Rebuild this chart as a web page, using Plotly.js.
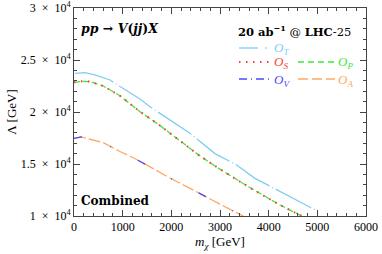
<!DOCTYPE html>
<html><head><meta charset="utf-8">
<script src="https://cdn.plot.ly/plotly-3.0.1.min.js"></script>
<style>html,body{margin:0;padding:0;background:#fff}#c{width:382px;height:254px}</style>
</head><body><div id="c"></div>
<script>
// m_chi [GeV] and Lambda [GeV]
const mT   = [20, 226, 431, 740, 945, 1356, 1562, 1972, 2383, 2897, 3343, 3719, 4438, 4986];
const lamT = [23720, 23780, 23560, 23080, 22450, 21250, 20500, 19230, 17950, 16000, 14900, 13620, 11860, 10510];
const mSP  = [0, 180, 329, 602, 945, 1356, 1732, 2143, 2589, 2965, 3582, 4233, 4678];
const lamS = [22850, 22950, 22920, 22500, 21560, 20030, 18820, 17350, 15770, 14600, 12820, 11060, 10000];
const lamP = [22850, 22950, 22920, 22500, 21560, 20030, 18820, 17350, 15770, 14600, 12820, 11060, 10000];
const mVA  = [0, 150, 329, 602, 945, 1218, 1629, 1972, 2383, 2897, 3137, 3479];
const lamV = [17470, 17600, 17380, 17050, 16200, 15600, 14560, 13650, 12660, 11350, 10800, 10000];
const lamA = [17470, 17600, 17380, 17050, 16200, 15600, 14560, 13650, 12660, 11350, 10800, 10000];
const yTickVals = [10000, 15000, 20000, 25000, 30000];
const yTickText = ['1\u2002×\u200210<sup>4</sup>', '1.5\u2002×\u200210<sup>4</sup>', '2\u2002×\u200210<sup>4</sup>', '2.5\u2002×\u200210<sup>4</sup>', '3\u2002×\u200210<sup>4</sup>'];
const xTickVals = [0, 1000, 2000, 3000, 4000, 5000, 6000];

const cT = '#80cdf2', cS = '#ff3b3b', cP = '#3ee63e', cV = '#4a4aff', cA = '#ffa860';
const F = 'Liberation Serif, serif';
const FB = 'DejaVu Serif, serif';

const traces = [
  {x: mT, y: lamT, mode: 'lines', line: {color: cT, width: 1.3, dash: '40px,3px,1px,3px'}},
  {x: mSP, y: lamP, mode: 'lines', line: {color: cP, width: 1.3, dash: '6px,3px'}},
  {x: mSP, y: lamS, mode: 'lines', line: {color: cS, width: 2, dash: '1.5px,5.5px'}},
  {x: mVA, y: lamA, mode: 'lines', line: {color: cA, width: 1.3, dash: '12px,3px'}},
  {x: mVA, y: lamV, mode: 'lines', line: {color: cV, width: 1.3, dash: '8px,30px,1px,30px'}}
];

function px2x(p){return (p-74)/292;}
function py2y(p){return (216-p)/208;}
function seg(x0,x1,y,color,dash,w){return {type:'line',xref:'paper',yref:'paper',x0:px2x(x0),x1:px2x(x1),y0:py2y(y),y1:py2y(y),line:{color:color,dash:dash,width:w||1.3}};}
function lab(x,y,txt,color,size,fam){return {xref:'paper',yref:'paper',x:px2x(x),y:py2y(y),xanchor:'left',yanchor:'middle',showarrow:false,text:txt,font:{family:fam||F,size:size||11,color:color||'#000'}};}

const shapes = [
  seg(239,258,48,cT,'solid'), seg(265,266.5,48,cT,'solid'),
  seg(239,271,62,cS,'1.5px,5.5px',2), seg(298,335,62,cP,'6px,4px'),
  seg(239,271,79,cV,'8px,4px,1px,4px'), seg(298,335,79,cA,'10px,4px')
];
const annotations = [
  lab(79,29,'<b><i>pp</i> → <i>V</i>(<i>jj</i>)<i>X</i></b>','#000',12.5,FB),
  lab(236,31,'<b>20 ab<sup>−1</sup></b> @ <b>LHC</b>-25','#000',11.5,FB),
  lab(272,49,'<i>O<sub>T</sub></i>',cT,13),
  lab(272,63,'<i>O<sub>S</sub></i>',cS,13),
  lab(336,63,'<i>O<sub>P</sub></i>',cP,13),
  lab(272,80,'<i>O<sub>V</sub></i>',cV,13),
  lab(336,80,'<i>O<sub>A</sub></i>',cA,13),
  lab(79,201,'<b>Combined</b>','#000',12,FB)
];

const layout = {
  width: 382, height: 254,
  margin: {l: 74, r: 16, t: 8, b: 38},
  paper_bgcolor: '#fff', plot_bgcolor: '#fff',
  showlegend: false,
  font: {family: F, size: 12, color: '#000'},
  xaxis: {range: [0, 6000], tickvals: xTickVals, ticks: 'inside', ticklen: 6, tickcolor: '#444',
    showline: true, linecolor: '#444', linewidth: 1, mirror: 'allticks', showgrid: false, zeroline: false,
    minor: {dtick: 200, ticks: 'inside', ticklen: 3, tickcolor: '#444', showgrid: false},
    tickfont: {family: F, size: 12}, title: {text: '<i>m<sub>χ</sub></i> [GeV]', font: {family: F, size: 13}, standoff: 3}},
  yaxis: {range: [10000, 30000], tickvals: yTickVals, ticktext: yTickText, ticks: 'inside', ticklen: 6, tickcolor: '#444',
    showline: true, linecolor: '#444', linewidth: 1, mirror: 'allticks', showgrid: false, zeroline: false,
    minor: {dtick: 1000, ticks: 'inside', ticklen: 3, tickcolor: '#444', showgrid: false},
    tickfont: {family: F, size: 12}, title: {text: 'Λ [GeV]', font: {family: F, size: 13}, standoff: 1}},
  shapes: shapes, annotations: annotations
};
Plotly.newPlot('c', traces, layout, {staticPlot: true, displayModeBar: false});
</script></body></html>
